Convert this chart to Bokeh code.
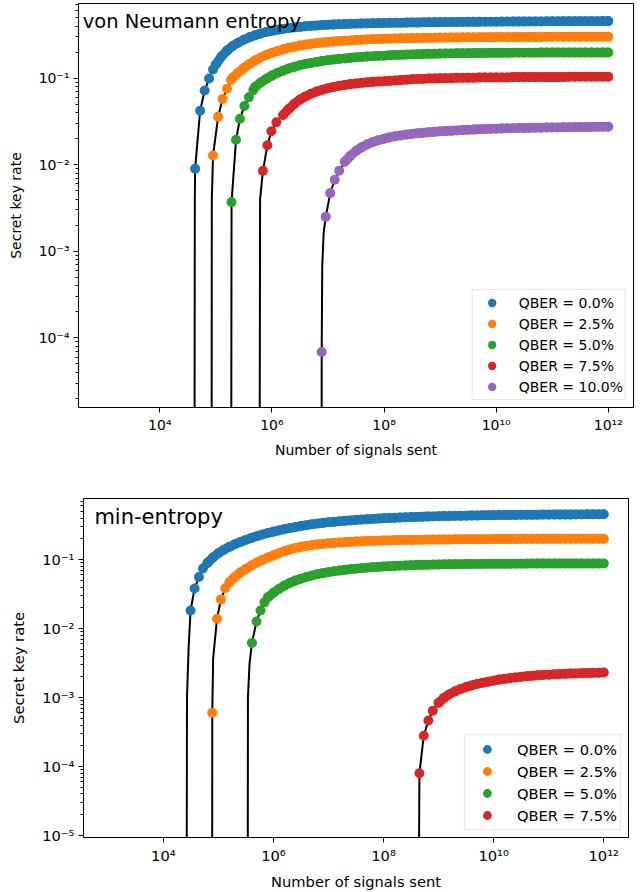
from bokeh.plotting import figure
from bokeh.models import (Range1d, FixedTicker, Label, Legend, LegendItem,
                          CustomJSTickFormatter)
from bokeh.embed import file_html
from bokeh.resources import INLINE

COLORS = ["#1f77b4", "#ff7f0e", "#2ca02c", "#d62728", "#9467bd"]
VN_LABELS = ["QBER = 0.0%", "QBER = 2.5%", "QBER = 5.0%", "QBER = 7.5%", "QBER = 10.0%"]
MIN_LABELS = ["QBER = 0.0%", "QBER = 2.5%", "QBER = 5.0%", "QBER = 7.5%"]
X_TICKS = [1e4, 1e6, 1e8, 1e10, 1e12]
Y_TICKS = [1e-5, 1e-4, 1e-3, 1e-2, 1e-1]

# shared exponent grid (log10 of number of signals) for the dense part of each curve
GRID_E = [4.8, 4.9,
          5.0, 5.1, 5.2, 5.3, 5.4, 5.5, 5.6, 5.7, 5.8, 5.9,
          6.0, 6.1, 6.2, 6.3, 6.4, 6.5, 6.6, 6.7, 6.8, 6.9,
          7.0, 7.1, 7.2, 7.3, 7.4, 7.5, 7.6, 7.7, 7.8, 7.9,
          8.0, 8.1, 8.2, 8.3, 8.4, 8.5, 8.6, 8.7, 8.8, 8.9,
          9.0, 9.1, 9.2, 9.3, 9.4, 9.5, 9.6, 9.7, 9.8, 9.9,
          10.0, 10.1, 10.2, 10.3, 10.4, 10.5, 10.6, 10.7, 10.8, 10.9,
          11.0, 11.1, 11.2, 11.3, 11.4, 11.5, 11.6, 11.7, 11.8, 11.9,
          12.0]

# ---------------- von Neumann entropy ----------------
vn0_head_e = [4.63, 4.72, 4.80, 4.88, 4.95]
vn0_head_y = [0.009, 0.042, 0.072, 0.099, 0.126]
vn0_band = [None] * 2 + [
    0.144, 0.178, 0.208, 0.235, 0.257, 0.278, 0.297, 0.313, 0.328, 0.341,
    0.352, 0.362, 0.370, 0.378, 0.385, 0.391, 0.397, 0.402, 0.406, 0.410,
    0.413, 0.416, 0.419, 0.421, 0.424, 0.426, 0.428, 0.429, 0.431, 0.432,
    0.433, 0.435, 0.436, 0.437, 0.438, 0.439, 0.440, 0.441, 0.442, 0.443,
    0.444, 0.444, 0.445, 0.445, 0.446, 0.447, 0.447, 0.448, 0.448, 0.449,
    0.449, 0.450, 0.450, 0.451, 0.451, 0.451, 0.452, 0.452, 0.452, 0.453,
    0.453, 0.453, 0.454, 0.454, 0.454, 0.455, 0.455, 0.455, 0.455, 0.456,
    0.456]
vn0_edge_e = [4.613, 4.625]
vn0_edge_y = [1e-9, 0.004]

vn1_head_e = [4.95, 5.04, 5.12, 5.20, 5.27]
vn1_head_y = [0.0128, 0.0357, 0.0574, 0.0754, 0.095]
vn1_band = [None] * 5 + [
    0.101, 0.116, 0.131, 0.146, 0.160, 0.173, 0.185,
    0.196, 0.206, 0.215, 0.224, 0.231, 0.238, 0.244, 0.249, 0.254, 0.258,
    0.262, 0.265, 0.268, 0.271, 0.273, 0.276, 0.278, 0.280, 0.282, 0.283,
    0.285, 0.286, 0.287, 0.288, 0.289, 0.290, 0.291, 0.292, 0.292, 0.293,
    0.294, 0.294, 0.295, 0.295, 0.296, 0.296, 0.296, 0.297, 0.297, 0.297,
    0.298, 0.298, 0.298, 0.298, 0.299, 0.299, 0.299, 0.299, 0.299, 0.300,
    0.300, 0.300, 0.300, 0.300, 0.300, 0.300, 0.300, 0.300, 0.300, 0.300,
    0.300]
vn1_edge_e = [4.921, 4.928]
vn1_edge_y = [1e-9, 0.004]

vn2_head_e = [5.28, 5.36, 5.43, 5.51, 5.59, 5.67]
vn2_head_y = [0.0037, 0.0194, 0.034, 0.0476, 0.060, 0.0728]
vn2_band = [None] * 9 + [
    0.079, 0.089, 0.098,
    0.107, 0.115, 0.122, 0.129, 0.135, 0.141, 0.146, 0.150, 0.154, 0.158,
    0.161, 0.164, 0.167, 0.169, 0.172, 0.174, 0.176, 0.178, 0.179, 0.181,
    0.182, 0.184, 0.185, 0.186, 0.187, 0.188, 0.189, 0.190, 0.191, 0.191,
    0.192, 0.193, 0.193, 0.194, 0.194, 0.194, 0.195, 0.195, 0.195, 0.196,
    0.196, 0.196, 0.196, 0.197, 0.197, 0.197, 0.197, 0.197, 0.198, 0.198,
    0.198, 0.198, 0.198, 0.198, 0.198, 0.198, 0.198, 0.198, 0.198, 0.198,
    0.198]
vn2_edge_e = [5.268]
vn2_edge_y = [1e-9]

vn3_head_e = [5.84, 5.92, 5.99, 6.08]
vn3_head_y = [0.0085, 0.0168, 0.0244, 0.0309]
vn3_band = [None] * 14 + [
    0.0375, 0.0440, 0.0505, 0.0565, 0.0615, 0.0660, 0.0700, 0.0735,
    0.0765, 0.0792, 0.0815, 0.0835, 0.0853, 0.0868, 0.0882, 0.0895, 0.0906, 0.0914,
    0.092, 0.093, 0.094, 0.095, 0.096, 0.097, 0.098, 0.098, 0.099, 0.099,
    0.100, 0.100, 0.100, 0.101, 0.101, 0.101, 0.101, 0.102, 0.102, 0.102,
    0.102, 0.102, 0.102, 0.103, 0.103, 0.103, 0.103, 0.103, 0.103, 0.103,
    0.103, 0.103, 0.103, 0.104, 0.104, 0.104, 0.104, 0.104, 0.104, 0.104,
    0.104]
vn3_edge_e = [5.773, 5.789]
vn3_edge_y = [1e-9, 0.004]

vn4_head_e = [6.888, 6.96, 7.04, 7.12, 7.20]
vn4_head_y = [6.86e-5, 0.0025, 0.0047, 0.0067, 0.0085]
vn4_band = [None] * 25 + [
    0.0108, 0.0127, 0.0144, 0.0159, 0.0172, 0.0183, 0.0192,
    0.0200, 0.0207, 0.0213, 0.0218, 0.0223, 0.0227, 0.0231, 0.0234, 0.0237, 0.0240,
    0.0243, 0.0245, 0.0247, 0.0249, 0.0251, 0.0253, 0.0255, 0.0257, 0.0258, 0.0260,
    0.0261, 0.0262, 0.0263, 0.0264, 0.0265, 0.0266, 0.0267, 0.0268, 0.0268, 0.0269,
    0.0270, 0.0270, 0.0271, 0.0271, 0.0272, 0.0272, 0.0273, 0.0273, 0.0274, 0.0274,
    0.0275]
vn4_edge_e = [6.885, 6.898, 6.923]
vn4_edge_y = [1e-9, 6.8e-4, 1.64e-3]

# ---------------- min-entropy ----------------
me0_head_e = [4.495, 4.568, 4.647, 4.72]
me0_head_y = [0.0183, 0.0381, 0.0558, 0.0744]
me0_band = [
    0.089, 0.107,
    0.124, 0.139, 0.153, 0.167, 0.180, 0.193, 0.206, 0.219, 0.231, 0.243,
    0.254, 0.265, 0.276, 0.287, 0.297, 0.307, 0.316, 0.325, 0.333, 0.340,
    0.347, 0.353, 0.359, 0.365, 0.370, 0.375, 0.380, 0.385, 0.389, 0.393,
    0.397, 0.400, 0.404, 0.407, 0.410, 0.413, 0.416, 0.418, 0.421, 0.423,
    0.425, 0.427, 0.429, 0.431, 0.433, 0.434, 0.436, 0.437, 0.439, 0.440,
    0.441, 0.442, 0.443, 0.444, 0.445, 0.446, 0.447, 0.447, 0.448, 0.449,
    0.449, 0.450, 0.450, 0.451, 0.451, 0.452, 0.452, 0.453, 0.453, 0.453,
    0.454]
me0_edge_e = [4.417, 4.43, 4.459]
me0_edge_y = [1e-9, 1e-3, 0.0052]

me1_head_e = [4.889, 4.975, 5.047, 5.125]
me1_head_y = [0.0006, 0.0139, 0.0265, 0.0385]
me1_band = [None] * 4 + [
    0.047, 0.056, 0.065, 0.073, 0.082, 0.091, 0.099, 0.107,
    0.115, 0.124, 0.132, 0.140, 0.147, 0.153, 0.158, 0.162, 0.166, 0.169,
    0.172, 0.175, 0.177, 0.179, 0.181, 0.183, 0.184, 0.186, 0.187, 0.188,
    0.189, 0.190, 0.191, 0.192, 0.193, 0.193, 0.194, 0.194, 0.195, 0.195,
    0.196, 0.196, 0.196, 0.197, 0.197, 0.197, 0.198, 0.198, 0.198, 0.198,
    0.199, 0.199, 0.199, 0.199, 0.199, 0.200, 0.200, 0.200, 0.200, 0.200,
    0.200, 0.200, 0.201, 0.201, 0.201, 0.201, 0.201, 0.201, 0.201, 0.201,
    0.201]
me1_edge_e = [4.885, 4.905]
me1_edge_y = [1e-9, 0.0037]

me2_head_e = [5.61, 5.693, 5.766, 5.838]
me2_head_y = [0.0062, 0.0127, 0.0183, 0.024]
me2_band = [None] * 11 + [
    0.0285,
    0.0330, 0.0375, 0.0420, 0.0460, 0.0496, 0.0530, 0.0560, 0.0588, 0.0614, 0.0637,
    0.0658, 0.0677, 0.0695, 0.0711, 0.0726, 0.0740, 0.0752, 0.0764, 0.0775, 0.0785,
    0.0794, 0.0802, 0.0810, 0.0817, 0.0823, 0.0829, 0.0834, 0.0839, 0.0843, 0.0847,
    0.0850, 0.0853, 0.0856, 0.0858, 0.0860, 0.0862, 0.0864, 0.0866, 0.0867, 0.0869,
    0.0870, 0.0871, 0.0872, 0.0873, 0.0874, 0.0874, 0.0875, 0.0876, 0.0876, 0.0877,
    0.0877, 0.0878, 0.0878, 0.0878, 0.0879, 0.0879, 0.0879, 0.0879, 0.0880, 0.0880,
    0.0880]
me2_edge_e = [5.53, 5.537, 5.566]
me2_edge_y = [1e-9, 1e-3, 0.0031]

me3_head_e = [8.652, 8.731, 8.815, 8.895]
me3_head_y = [8.0e-5, 2.8e-4, 4.65e-4, 6.45e-4]
me3_band = [None] * 42 + [
    0.00084, 0.00099, 0.00112, 0.00123, 0.00133, 0.00142, 0.00150, 0.00157, 0.00164, 0.00170,
    0.00176, 0.00182, 0.00187, 0.00192, 0.00196, 0.00200, 0.00204, 0.00207, 0.00210, 0.00213,
    0.00215, 0.00217, 0.00219, 0.00221, 0.00223, 0.00224, 0.00226, 0.00227, 0.00228, 0.00229,
    0.00231]
me3_edge_e = [8.62]
me3_edge_y = [1e-9]

VN_SERIES = [
    (vn0_head_e, vn0_head_y, vn0_band, vn0_edge_e, vn0_edge_y),
    (vn1_head_e, vn1_head_y, vn1_band, vn1_edge_e, vn1_edge_y),
    (vn2_head_e, vn2_head_y, vn2_band, vn2_edge_e, vn2_edge_y),
    (vn3_head_e, vn3_head_y, vn3_band, vn3_edge_e, vn3_edge_y),
    (vn4_head_e, vn4_head_y, vn4_band, vn4_edge_e, vn4_edge_y),
]
ME_SERIES = [
    (me0_head_e, me0_head_y, me0_band, me0_edge_e, me0_edge_y),
    (me1_head_e, me1_head_y, me1_band, me1_edge_e, me1_edge_y),
    (me2_head_e, me2_head_y, me2_band, me2_edge_e, me2_edge_y),
    (me3_head_e, me3_head_y, me3_band, me3_edge_e, me3_edge_y),
]

FONT = "DejaVu Sans"
MARKER = 10.0


def build(head_e, head_y, band, edge_e, edge_y):
    band_pts = [(e, v) for e, v in zip(GRID_E, band)
                if v is not None and e > head_e[-1]]
    pts = list(zip(head_e, head_y)) + band_pts
    sx = [10 ** e for e, _ in pts]
    sy = [v for _, v in pts]
    bx = [10 ** e for e, _ in band_pts]
    by = [v for _, v in band_pts]
    line_pts = sorted(list(zip(edge_e, edge_y)) + pts)
    lx = [10 ** e for e, _ in line_pts]
    ly = [v for _, v in line_pts]
    return sx, sy, bx, by, lx, ly


SUP_CODE = """
const s = {"-": "\u207b", "0": "\u2070", "1": "\u00b9", "2": "\u00b2", "3": "\u00b3",
           "4": "\u2074", "5": "\u2075", "6": "\u2076", "7": "\u2077", "8": "\u2078", "9": "\u2079"};
const e = Math.round(Math.log10(tick));
return "10" + String(e).split("").map(c => s[c]).join("");
"""


def panel(series, labels, title, title_x, title_y, title_size, font_size,
          y_lo, y_hi, height, borders, leg_glyph_h, leg_glyph_w, leg_pad, leg_standoff):
    p = figure(width=641, height=height, x_axis_type="log", y_axis_type="log",
               x_range=Range1d(10 ** 2.55, 10 ** 12.45), y_range=Range1d(y_lo, y_hi),
               output_backend="svg", toolbar_location=None,
               min_border_left=borders[0], min_border_right=borders[1],
               min_border_top=borders[2], min_border_bottom=borders[3])
    p.xgrid.visible = False
    p.ygrid.visible = False
    p.outline_line_color = "black"
    p.outline_line_width = 1
    p.background_fill_color = "white"

    minors = [m * 10.0 ** k for k in range(-7, 1) for m in range(2, 10)]
    p.xaxis.ticker = FixedTicker(ticks=X_TICKS, minor_ticks=[])
    p.yaxis.ticker = FixedTicker(ticks=Y_TICKS, minor_ticks=minors)
    for ax in (p.xaxis[0], p.yaxis[0]):
        ax.formatter = CustomJSTickFormatter(code=SUP_CODE)
        ax.axis_line_color = "black"
        ax.major_tick_line_color = "black"
        ax.minor_tick_line_color = "black"
        ax.major_tick_in = 0
        ax.major_tick_out = 5
        ax.minor_tick_in = 0
        ax.minor_tick_out = 3
        ax.major_label_text_font = FONT
        ax.major_label_text_font_size = font_size
        ax.major_label_text_color = "black"
        ax.major_label_standoff = 4
        ax.axis_label_text_font = FONT
        ax.axis_label_text_font_size = font_size
        ax.axis_label_text_font_style = "normal"
        ax.axis_label_text_color = "black"
    p.xaxis.axis_label = "Number of signals sent"
    p.xaxis.axis_label_standoff = 6
    p.yaxis.axis_label = "Secret key rate"
    p.yaxis.axis_label_standoff = 12

    built = [build(*s) for s in series]
    for (sx, sy, bx, by, lx, ly) in built:
        p.line(lx, ly, line_color="black", line_width=2)
    items = []
    for i, (sx, sy, bx, by, lx, ly) in enumerate(built):
        # the dense markers merge into a solid band, as in the original
        p.line(bx, by, line_color=COLORS[i], line_width=MARKER - 0.6,
               line_cap="round", line_join="round")
        r = p.scatter(sx, sy, size=MARKER, fill_color=COLORS[i], line_color=None)
        items.append(LegendItem(label=labels[i], renderers=[r]))

    leg = Legend(items=items, location="bottom_right",
                 label_text_font=FONT, label_text_font_size=font_size,
                 label_text_color="black",
                 glyph_height=leg_glyph_h, glyph_width=leg_glyph_w,
                 label_height=leg_glyph_h, label_standoff=leg_standoff,
                 spacing=0, padding=leg_pad, margin=7,
                 border_line_color="#cccccc", border_line_width=1,
                 background_fill_alpha=0.8)
    p.add_layout(leg)

    p.add_layout(Label(x=title_x, y=title_y, text=title, text_font=FONT,
                       text_font_size=title_size, text_color="black",
                       text_baseline="alphabetic"))
    return p


p1 = panel(VN_SERIES, VN_LABELS, "von Neumann entropy", 10 ** 2.625, 0.456,
           "19.5px", "14px", 1.57e-5, 0.728, 460, (78, 8, 3, 51), 21, 34, 2, 10)
p2 = panel(ME_SERIES, MIN_LABELS, "min-entropy", 10 ** 2.748, 0.416,
           "21px", "14.7px", 9.36e-6, 0.769, 432, (83, 13, 38, 50), 22, 38, 3, 11)

# two independent roots, stacked, so that each keeps its own frame geometry
open("out.html", "w").write(file_html([p1, p2], INLINE))
